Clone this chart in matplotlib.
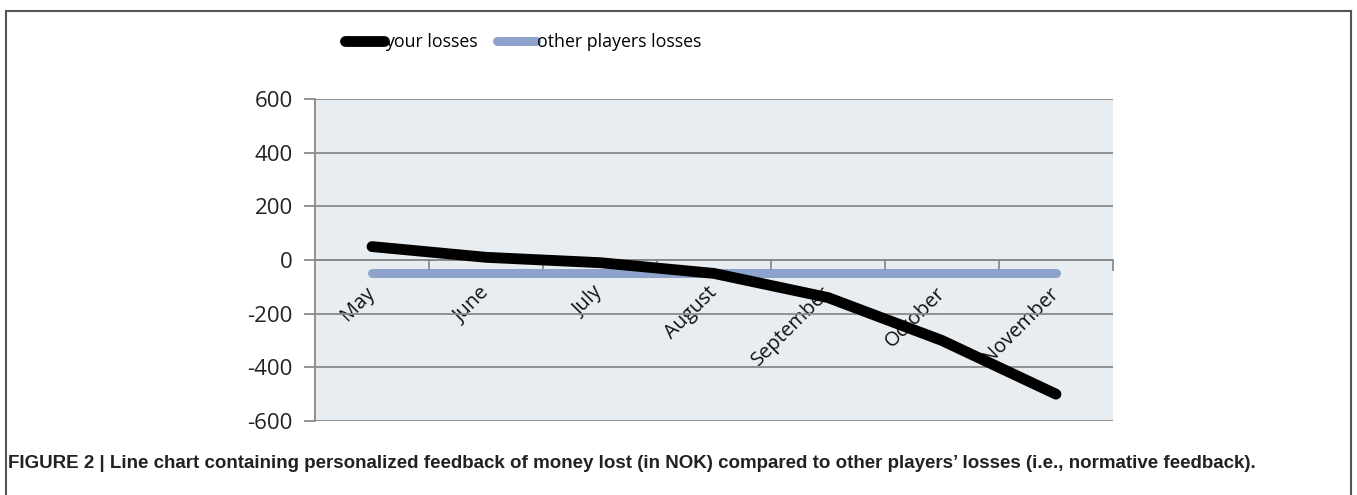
import matplotlib
matplotlib.use("Agg")
import matplotlib.pyplot as plt
from matplotlib.lines import Line2D
from matplotlib.transforms import ScaledTranslation
import numpy as np

# data
months = ["May", "June", "July", "August", "September", "October", "November"]
your_losses = [50, 10, -10, -50, -140, -300, -500]
other_losses = [-50, -50, -50, -50, -50, -50, -50]
yticks = [600, 400, 200, 0, -200, -400, -600]
caption = ("FIGURE 2 | Line chart containing personalized feedback of money lost (in NOK) "
           "compared to other players\u2019 losses (i.e., normative feedback).")

W, H = 1357, 495
fig = plt.figure(figsize=(W / 100, H / 100), dpi=100)
ax = fig.add_axes([315 / W, 1 - 421 / H, (1113 - 315) / W, (421 - 99) / H])

grid_col = "#8a8a8a"
ax.set_facecolor("#e8edf2")
x = np.arange(len(months))

ax.plot(x, other_losses, color="#8ea3cc", lw=6.5, solid_capstyle="round",
        label="other players losses", zorder=3)
ax.plot(x, your_losses, color="black", lw=7.8, solid_capstyle="round",
        label="your losses", zorder=4)

ax.set_xlim(-0.5, len(months) - 0.5)
ax.set_ylim(-600, 600)
ax.set_yticks(yticks)
ax.set_yticklabels([str(v) for v in yticks], fontsize=16, family="Open Sans", color="#222222")
ax.yaxis.grid(True, color=grid_col, lw=1.3)
ax.set_axisbelow(True)
ax.tick_params(axis="y", length=8, width=1.3, color=grid_col, pad=8)

for s in ["top", "right"]:
    ax.spines[s].set_visible(False)
ax.spines["left"].set_color(grid_col)
ax.spines["left"].set_linewidth(1.3)
ax.spines["bottom"].set_position(("data", 0))
ax.spines["bottom"].set_color(grid_col)
ax.spines["bottom"].set_linewidth(1.3)

ax.set_xticks(x)
ax.set_xticklabels(months, rotation=45, ha="right", va="center", rotation_mode="anchor",
                   fontsize=14.5, family="Open Sans", color="#111111")
ax.tick_params(axis="x", which="major", length=0, pad=0)
ax.set_xticks(np.arange(len(months)) + 0.5, minor=True)
ax.tick_params(axis="x", which="minor", length=8, width=1.3, color=grid_col, direction="out")
for lab in ax.get_xticklabels():
    lab.set_transform(lab.get_transform() + ScaledTranslation(0 / 100, -30 / 100, fig.dpi_scale_trans))

h, l = ax.get_legend_handles_labels()
leg = fig.legend(h[::-1], l[::-1], loc="center", bbox_to_anchor=(523 / W, 1 - 42 / H), ncol=2,
                 frameon=False, handlelength=2.2, handletextpad=0.05, columnspacing=1.1,
                 prop={"family": "Open Sans", "size": 12.8})

# outer frame
for xs, ys in [([6 / W, 1351 / W], [1 - 11 / H, 1 - 11 / H]),
               ([6 / W, 6 / W], [1 - 11 / H, 0]),
               ([1351 / W, 1351 / W], [1 - 11 / H, 0])]:
    fig.add_artist(Line2D(xs, ys, color="#555555", lw=1.5, transform=fig.transFigure))

fig.text(8 / W, 1 - 463 / H, caption, fontsize=13.5, fontweight="bold",
         family="Liberation Sans", va="center", ha="left", color="#222222")

fig.savefig("out.png", dpi=100)
